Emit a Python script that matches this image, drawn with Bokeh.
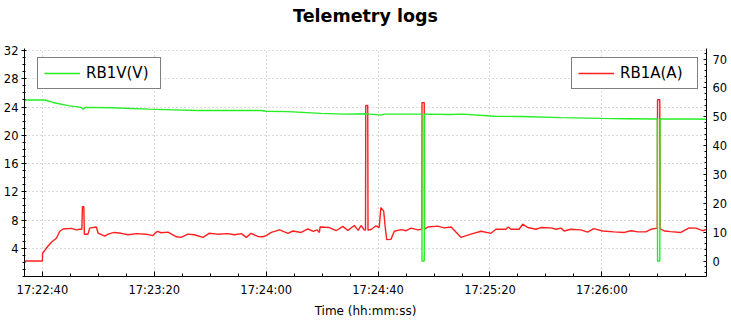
from bokeh.plotting import figure
from bokeh.models import Range1d, LinearAxis, FixedTicker, Legend, LegendItem, Title
from bokeh.embed import file_html
from bokeh.resources import INLINE

# ---------------- data ----------------
title_text = "Telemetry logs"
tick_labels = ["17:22:40", "17:23:20", "17:24:00", "17:24:40", "17:25:20", "17:26:00"]
volt_ticks = [4, 8, 12, 16, 20, 24, 28, 32]
amp_ticks = [0, 10, 20, 30, 40, 50, 60, 70]

start_time = "17:22:40"  # seconds below are offsets from this time

amp_t = [-6.4, 0.0, 0.05, 1.4, 3.2, 5.0, 6.2, 7.4, 10.4, 12.1, 13.3, 14.1, 14.3, 14.8, 15.0,
         16.3, 16.9, 19.3, 19.9, 22.3, 23.5, 25.7, 28.2, 30.6, 33.6, 37.1, 39.5, 41.1, 42.5,
         44.9, 47.9, 49.6, 52.0, 54.3, 57.4, 59.6, 62.5, 66.3, 68.6, 71.1, 72.9, 74.6, 77.0,
         78.9, 80.0, 81.8, 84.8, 87.8, 89.5, 92.5, 94.9, 96.8, 98.2, 99.0, 99.3, 102.6, 105.0,
         107.4, 109.2, 111.5, 112.9, 113.9, 115.1, 115.5, 115.6, 116.3, 116.4, 117.5, 119.3,
         120.4, 121.0, 122.0, 122.6, 123.1, 124.6, 125.8, 128.2, 130.0, 131.8, 134.2, 135.6,
         135.7, 136.5, 136.6, 137.8, 141.3, 143.6, 146.1, 149.6, 153.2, 156.8, 160.4, 162.1,
         165.7, 166.5, 167.5, 170.4, 171.7, 173.5, 176.4, 178.2, 181.8, 183.6, 185.4, 186.5,
         188.9, 192.5, 194.9, 197.1, 200.3, 204.3, 208.0, 210.4, 212.9, 215.7, 217.5, 219.8,
         219.9, 220.7, 220.8, 222.3, 224.6, 228.2, 231.2, 233.6, 236.0, 237.5]
amp = [0.0, 0.0, 2.7, 4.4, 6.5, 7.9, 10.3, 11.1, 11.3, 10.8, 11.0, 11.0, 18.8, 18.8, 9.3,
       9.3, 11.4, 11.8, 9.7, 8.6, 9.3, 9.9, 9.6, 9.1, 9.5, 9.3, 8.8, 10.3, 9.8,
       10.0, 8.4, 8.2, 9.3, 9.1, 8.2, 9.6, 9.3, 9.5, 9.1, 9.5, 8.2, 9.6, 8.5,
       8.4, 8.8, 9.9, 10.8, 9.6, 10.4, 9.9, 11.1, 10.3, 10.8, 9.9, 11.8, 11.6, 10.5,
       12.0, 10.6, 12.3, 10.6, 12.3, 10.7, 10.7, 53.9, 53.9, 10.7, 10.9, 12.2,
       11.6, 18.5, 17.3, 11.2, 7.4, 7.5, 10.3, 10.9, 10.5, 11.4, 10.8, 11.0,
       54.9, 54.9, 11.0, 11.8, 12.1, 11.5, 11.8, 8.2, 9.3, 10.3, 9.6, 11.0,
       11.0, 11.8, 11.0, 11.0, 12.8, 11.6, 11.0, 11.6, 11.5, 11.0, 11.4, 10.4,
       11.0, 10.8, 10.0, 11.2, 10.4, 10.1, 9.9, 10.5, 10.1, 10.1, 11.0, 11.4,
       55.9, 55.9, 11.2, 10.4, 10.2, 9.9, 11.5, 11.4, 10.5, 11.0]

volt_t = [-6.4, 0.8, 3.8, 9.2, 13.9, 14.5, 15.4, 24.6, 37.8, 47.3, 55.6, 78.2, 80.0, 87.8,
          99.6, 108.0, 116.3, 116.9, 121.1, 122.1, 135.6, 135.7, 136.5, 136.6, 145.6, 150.4,
          161.5, 171.1, 185.4, 199.6, 209.2, 219.8, 219.9, 220.7, 220.8, 232.9, 237.5]
volt = [25.0, 25.0, 24.65, 24.2, 23.95, 23.7, 23.95, 23.9, 23.7, 23.6, 23.5, 23.5, 23.4, 23.35,
        23.1, 23.0, 23.05, 23.0, 22.85, 23.0, 23.0, 2.2, 2.2, 23.0, 22.95, 23.0,
        22.7, 22.65, 22.5, 22.4, 22.35, 22.3, 2.2, 2.2, 22.3, 22.3, 22.28]


def hms(s):
    h, m, sec = s.split(":")
    return int(h) * 3600 + int(m) * 60 + float(sec)


t0 = hms(start_time)
amp_x = [t0 + t for t in amp_t]
volt_x = [t0 + t for t in volt_t]
major_x = [hms(s) for s in tick_labels]
minor_x = [major_x[0] - 10 + 10 * i for i in range(26)]

FONT = "DejaVu Sans"

p = figure(width=731, height=320, output_backend="svg", toolbar_location=None,
           x_range=Range1d(t0 - 6.4, t0 + 237.4), y_range=Range1d(0, 32.29),
           min_border_left=23, min_border_right=25, min_border_top=47, min_border_bottom=42)
p.outline_line_color = None
p.background_fill_color = "white"
p.border_fill_color = "white"

p.title.text = title_text
p.title.align = "center"
p.title.vertical_align = "top"
p.title.text_font = FONT
p.title.text_font_size = "17.5px"
p.title.text_font_style = "bold"
p.title.text_color = "black"
p.title.standoff = 10
# blank spacer between title and plot area
p.add_layout(Title(text=" ", text_font_size="8px", standoff=5), "above")

p.extra_y_ranges = {"amp": Range1d(-5.37, 73.66)}

red = p.line(amp_x, amp, y_range_name="amp", line_color="#ff1f1f", line_width=1.4)
green = p.line(volt_x, volt, line_color="#25ee25", line_width=1.4)

# x axis
xa = p.xaxis[0]
xa.ticker = FixedTicker(ticks=major_x, minor_ticks=minor_x)
xa.major_label_overrides = {x: lab for x, lab in zip(major_x, tick_labels)}
xa.axis_label = "Time (hh:mm:ss)"
xa.axis_label_text_font = FONT
xa.axis_label_text_font_size = "12px"
xa.axis_label_text_font_style = "normal"
xa.axis_label_text_color = "black"
xa.axis_label_standoff = 4
xa.major_label_text_font = FONT
xa.major_label_text_font_size = "11.5px"
xa.major_label_text_color = "black"
xa.major_label_standoff = 6
xa.major_tick_in = 5
xa.major_tick_out = 0
xa.minor_tick_in = 3
xa.minor_tick_out = 0
xa.axis_line_color = "black"
xa.major_tick_line_color = "black"
xa.minor_tick_line_color = "black"

# left axis
ya = p.yaxis[0]
ya.ticker = FixedTicker(ticks=volt_ticks, minor_ticks=list(range(0, 33)))
ya.major_label_text_font = FONT
ya.major_label_text_font_size = "11.5px"
ya.major_label_text_color = "black"
ya.major_label_standoff = 3
ya.major_tick_in = 2
ya.major_tick_out = 3
ya.minor_tick_in = 1
ya.minor_tick_out = 2
ya.axis_line_color = "black"
ya.major_tick_line_color = "black"
ya.minor_tick_line_color = "black"

# right axis
ra = LinearAxis(y_range_name="amp",
                ticker=FixedTicker(ticks=amp_ticks, minor_ticks=list(range(-4, 74, 2))))
ra.major_label_text_font = FONT
ra.major_label_text_font_size = "11.5px"
ra.major_label_text_color = "black"
ra.major_label_standoff = 6
ra.major_tick_in = 3
ra.major_tick_out = 0
ra.minor_tick_in = 2
ra.minor_tick_out = 0
ra.axis_line_color = "black"
ra.major_tick_line_color = "black"
ra.minor_tick_line_color = "black"
p.add_layout(ra, "right")

# grids
p.xgrid.ticker = FixedTicker(ticks=major_x)
p.ygrid.ticker = FixedTicker(ticks=volt_ticks)
for g in (p.xgrid[0], p.ygrid[0]):
    g.grid_line_color = "#b8b8b8"
    g.grid_line_dash = "1 3"
    g.grid_line_width = 1

# legends
def make_legend(label, r, loc, lw):
    lg = Legend(items=[LegendItem(label=label, renderers=[r])], location=loc,
                margin=0, padding=6, glyph_width=36, glyph_height=18, label_height=18,
                label_width=lw, label_standoff=6, border_line_color="black",
                border_line_width=1, background_fill_color="white", background_fill_alpha=1.0,
                label_text_font=FONT, label_text_font_size="15px", label_text_color="black")
    return lg

p.add_layout(make_legend("RB1V(V)", green, (13, 187.5), 68), "center")
p.add_layout(make_legend("RB1A(A)", red, (547, 187.5), 71), "center")

open("out.html", "w").write(file_html(p, INLINE))
